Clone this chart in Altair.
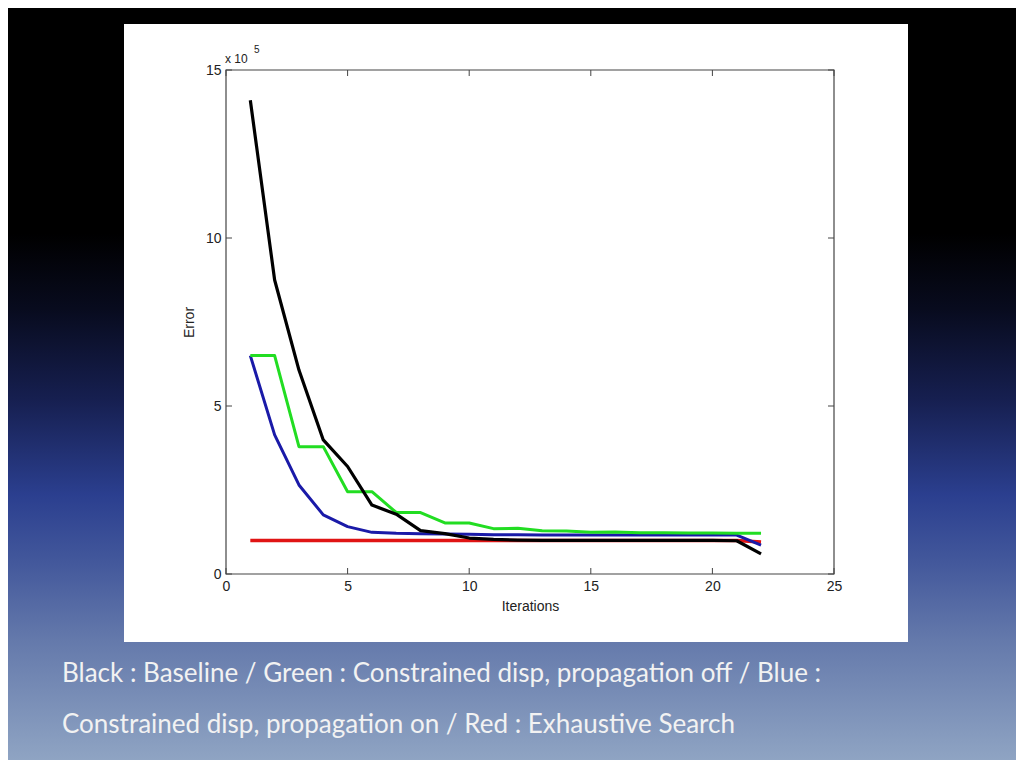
import altair as alt
import pandas as pd

# ---- data (error in units of 10^5) ----
iterations = [1, 2, 3, 4, 5, 6, 7, 8, 9, 10, 11, 12, 13, 14, 15, 16, 17, 18, 19, 20, 21, 22]
black = [14.1, 8.75, 6.07, 3.99, 3.2, 2.05, 1.78, 1.29, 1.2, 1.07, 1.03, 1.01, 1.0, 1.0,
         1.0, 1.0, 1.0, 1.0, 1.0, 1.0, 0.99, 0.6]
green = [6.5, 6.5, 3.79, 3.79, 2.45, 2.45, 1.83, 1.83, 1.52, 1.52, 1.35, 1.36, 1.29, 1.28,
         1.24, 1.25, 1.23, 1.23, 1.22, 1.22, 1.21, 1.21]
blue = [6.5, 4.14, 2.65, 1.76, 1.41, 1.24, 1.21, 1.2, 1.19, 1.18, 1.17, 1.17, 1.16, 1.16,
        1.16, 1.16, 1.16, 1.16, 1.16, 1.16, 1.16, 0.86]
red = [1.0, 1.0, 1.0, 1.0, 1.0, 1.0, 1.0, 1.0, 1.0, 1.0, 1.0, 1.0, 1.0, 1.0,
       1.0, 1.0, 1.0, 1.0, 1.0, 1.0, 1.0, 0.95]

series = [("Exhaustive Search", red, "#e01414", 3.5),
          ("Constrained disp, propagation on", blue, "#1a1aa8", 3),
          ("Constrained disp, propagation off", green, "#22dd22", 3),
          ("Baseline", black, "#000000", 3.2)]

x_ticks = [0, 5, 10, 15, 20, 25]
y_ticks = [0, 5, 10, 15]
x_title = "Iterations"
y_title = "Error"
exponent_base = "x 10"
exponent_power = "5"
caption_1 = "Black : Baseline / Green : Constrained disp, propagation off / Blue :"
caption_2 = "Constrained disp, propagation on / Red : Exhaustive Search"

W, H = 608, 504
FONT = "Liberation Sans"

x_scale = alt.Scale(domain=[0, 25], nice=False, zero=False)
y_scale = alt.Scale(domain=[0, 15], nice=False, zero=False)

x_axis = alt.Axis(values=x_ticks, ticks=False, domain=False, grid=False,
                  labelFont=FONT, labelFontSize=14, labelColor="#222222", labelPadding=5,
                  labelFlush=False, labelOverlap=False,
                  title=x_title, titleFont=FONT, titleFontSize=14, titleFontWeight="normal",
                  titleColor="#222222", titlePadding=6, zindex=1)
y_axis = alt.Axis(values=y_ticks, ticks=False, domain=False, grid=False,
                  labelFont=FONT, labelFontSize=14, labelColor="#222222", labelPadding=5,
                  labelFlush=False, labelOverlap=False,
                  title=y_title, titleFont=FONT, titleFontSize=14, titleFontWeight="normal",
                  titleColor="#222222", titlePadding=9, zindex=1)

one = pd.DataFrame({"k": [0]})

gradient = alt.LinearGradient(
    gradient="linear", x1=0, x2=0, y1=0, y2=1,
    stops=[alt.GradientStop(color="#000000", offset=0),
           alt.GradientStop(color="#000000", offset=0.30),
           alt.GradientStop(color="#080b1e", offset=0.40),
           alt.GradientStop(color="#161f50", offset=0.52),
           alt.GradientStop(color="#2b3f8f", offset=0.648),
           alt.GradientStop(color="#42579b", offset=0.734),
           alt.GradientStop(color="#6479ab", offset=0.84),
           alt.GradientStop(color="#8fa4c3", offset=1.0)])

bg = alt.Chart(one).mark_rect(color=gradient).encode(
    x=alt.value(-218), x2=alt.value(W + 182), y=alt.value(-62), y2=alt.value(H + 186))

panel = alt.Chart(one).mark_rect(color="white").encode(
    x=alt.value(-102), x2=alt.value(682), y=alt.value(-46), y2=alt.value(572))

box = alt.Chart(one).mark_rect(filled=False, stroke="#444444", strokeWidth=1.2).encode(
    x=alt.value(0), x2=alt.value(W), y=alt.value(0), y2=alt.value(H))

xt = pd.DataFrame({"iter": x_ticks})
yt = pd.DataFrame({"err": y_ticks})
xb = alt.Chart(xt).mark_rule(color="#444444").encode(
    x=alt.X("iter:Q", scale=x_scale, axis=x_axis), y=alt.value(H), y2=alt.value(H - 6))
xtp = alt.Chart(xt).mark_rule(color="#444444").encode(
    x=alt.X("iter:Q", scale=x_scale, axis=x_axis), y=alt.value(0), y2=alt.value(6))
yl = alt.Chart(yt).mark_rule(color="#444444").encode(
    y=alt.Y("err:Q", scale=y_scale, axis=y_axis), x=alt.value(0), x2=alt.value(6))
yr = alt.Chart(yt).mark_rule(color="#444444").encode(
    y=alt.Y("err:Q", scale=y_scale, axis=y_axis), x=alt.value(W - 6), x2=alt.value(W))

line_layers = []
for name, vals, col, sw in series:
    d = pd.DataFrame({"iter": iterations, "err": vals, "series": name})
    line_layers.append(
        alt.Chart(d).mark_line(color=col, strokeWidth=sw, strokeJoin="round").encode(
            x=alt.X("iter:Q", scale=x_scale, axis=x_axis),
            y=alt.Y("err:Q", scale=y_scale, axis=y_axis),
            order="iter:Q"))

exp1 = alt.Chart(one).mark_text(font=FONT, fontSize=12, color="#222222", align="left",
                                baseline="alphabetic").encode(
    x=alt.value(-1), y=alt.value(-7), text=alt.value(exponent_base))
exp2 = alt.Chart(one).mark_text(font=FONT, fontSize=10, color="#222222", align="left",
                                baseline="alphabetic").encode(
    x=alt.value(28), y=alt.value(-17), text=alt.value(exponent_power))

cap1 = alt.Chart(one).mark_text(font="Lato", fontSize=26, color="#f2f2f2", align="left",
                                baseline="alphabetic").encode(
    x=alt.value(-164), y=alt.value(612), text=alt.value(caption_1))
cap2 = alt.Chart(one).mark_text(font="Lato", fontSize=26, color="#f2f2f2", align="left",
                                baseline="alphabetic").encode(
    x=alt.value(-164), y=alt.value(663), text=alt.value(caption_2))

chart = alt.layer(bg, panel, *line_layers, box, xb, xtp, yl, yr, exp1, exp2, cap1, cap2).properties(
    width=W, height=H,
    autosize=alt.AutoSizeParams(type="none"),
    padding={"left": 218, "top": 62, "right": 182, "bottom": 186},
    background="black",
).configure_view(stroke=None)

chart.save("out.html", embed_options={"renderer": "svg", "actions": False})
